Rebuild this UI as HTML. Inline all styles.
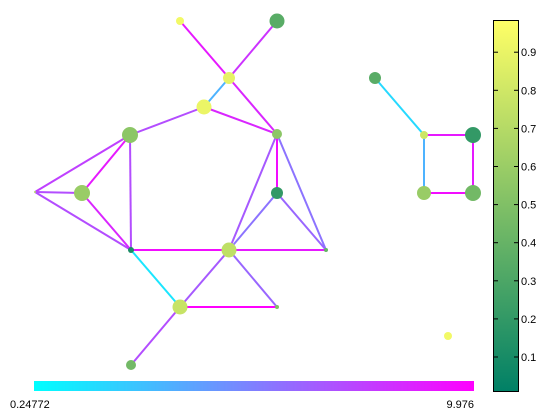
<!DOCTYPE html>
<html><head><meta charset="utf-8"><style>
html,body{margin:0;padding:0;background:#fff;width:560px;height:420px;overflow:hidden}
svg{display:block;font-family:"Liberation Sans",sans-serif}
</style></head><body>
<svg id="chart" width="560" height="420">
<defs>
<linearGradient id="cool" x1="0" x2="1" y1="0" y2="0"><stop offset="0" stop-color="#00ffff"/><stop offset="1" stop-color="#ff00ff"/></linearGradient>
<linearGradient id="summer" x1="0" x2="0" y1="1" y2="0"><stop offset="0" stop-color="#008066"/><stop offset="1" stop-color="#ffff66"/></linearGradient>
</defs>
<g id="edges"></g>
<g id="nodes"></g>
<rect x="34" y="381" width="440" height="10" fill="url(#cool)"/>
<text x="10" y="408" font-size="11">0.24772</text>
<text x="474" y="408" font-size="11" text-anchor="end">9.976</text>
<rect x="493.5" y="20.5" width="25" height="371" fill="url(#summer)" stroke="#000" stroke-width="1"/>
<g id="cbticks"></g>
</svg>
<script>
const nodeIds = ["A","B","C","D","E","F","G","H","I","J","K","L","M","N","O","P","Q","R","S","T","U"];
const nodeX = [180,277,229,204,130,277,35,82,277,131,229,326,180,277,131,375,424,473,424,473,448];
const nodeY = [21,21,78,107,135,134,192,193,193,250,250,250,307,307,365,78,135,135,193,193,336];
const nodeR = [4,7.5,6,7.5,8,5,1,8,6,3,7.5,2,7.5,2,5,6,4,8,7,8,4];
const nodeVal = [0.95,0.35,0.9,0.92,0.55,0.55,0.7,0.6,0.2,0.1,0.75,0.4,0.78,0.5,0.45,0.35,0.8,0.2,0.6,0.45,0.95];
const edgeFrom = ["A","B","C","C","D","D","E","E","E","G","G","H","F","F","F","I","I","J","K","J","K","K","M","M","P","Q","Q","R","S"];
const edgeTo   = ["C","C","D","F","E","F","G","H","J","H","J","J","I","K","L","K","L","K","L","M","M","N","N","O","Q","R","S","T","T"];
const edgeW = [0.9,0.8,0.3,0.85,0.7,0.85,0.75,0.9,0.7,0.7,0.7,0.85,0.95,0.65,0.55,0.55,0.6,0.95,0.9,0.1,0.65,0.6,1.0,0.7,0.15,0.9,0.3,0.9,0.95];
const cbTicks = [0.1,0.2,0.3,0.4,0.5,0.6,0.7,0.8,0.9];
const cbTickLabels = ["0.1","0.2","0.3","0.4","0.5","0.6","0.7","0.8","0.9"];
const NS="http://www.w3.org/2000/svg";
function cool(v){return `rgb(${Math.round(255*v)},${Math.round(255*(1-v))},255)`;}
function summer(v){return `rgb(${Math.round(255*v)},${Math.round(255*(0.5+0.5*v))},102)`;}
function cbY(v){return 357-(v-0.1)*381;}
const eg=document.getElementById('edges');
edgeFrom.forEach((f,i)=>{
  const a=nodeIds.indexOf(f), b=nodeIds.indexOf(edgeTo[i]);
  const l=document.createElementNS(NS,'line');
  l.setAttribute('x1',nodeX[a]);l.setAttribute('y1',nodeY[a]);
  l.setAttribute('x2',nodeX[b]);l.setAttribute('y2',nodeY[b]);
  l.setAttribute('stroke',cool(edgeW[i]));l.setAttribute('stroke-width',2);
  
  
  eg.appendChild(l);
});
const ng=document.getElementById('nodes');
nodeIds.forEach((id,i)=>{
  const c=document.createElementNS(NS,'circle');
  c.setAttribute('cx',nodeX[i]);c.setAttribute('cy',nodeY[i]);c.setAttribute('r',nodeR[i]);
  c.setAttribute('fill',summer(nodeVal[i]));
  
  
  ng.appendChild(c);
});
const tg=document.getElementById('cbticks');
cbTicks.forEach((v,i)=>{
  const y=cbY(v);
  const t1=document.createElementNS(NS,'line');
  t1.setAttribute('x1',494);t1.setAttribute('x2',498);t1.setAttribute('y1',y);t1.setAttribute('y2',y);t1.setAttribute('stroke','#000');
  
  
  tg.appendChild(t1);
  const t2=document.createElementNS(NS,'line');
  t2.setAttribute('x1',514);t2.setAttribute('x2',518);t2.setAttribute('y1',y);t2.setAttribute('y2',y);t2.setAttribute('stroke','#000');
  
  
  tg.appendChild(t2);
  const tx=document.createElementNS(NS,'text');
  tx.setAttribute('x',521);tx.setAttribute('y',y+4);tx.setAttribute('font-size','11');
  tx.textContent=cbTickLabels[i];
  
  
  tg.appendChild(tx);
});
</script>
</body></html>
